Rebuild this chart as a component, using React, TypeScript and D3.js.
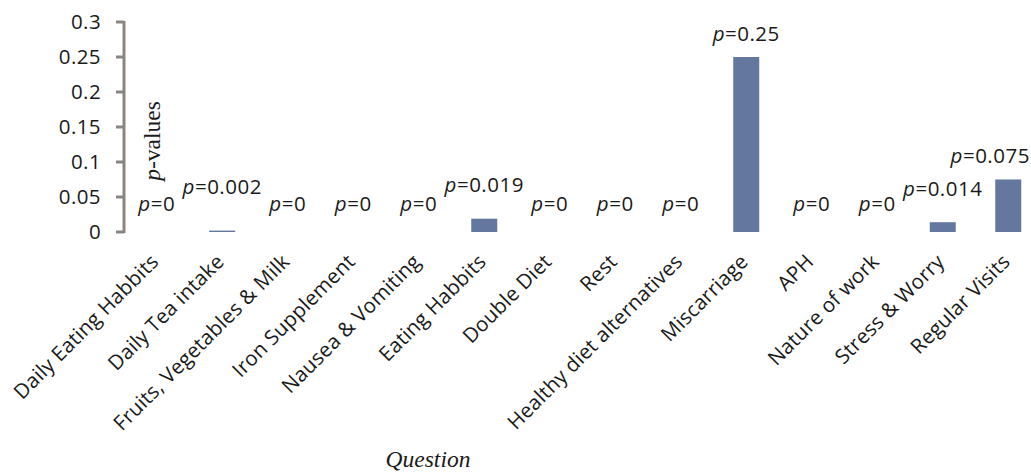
import React from "react";
import * as d3 from "d3";

// Survey questions and their p-values
const questions: string[] = [
  "Daily Eating Habbits",
  "Daily Tea intake",
  "Fruits, Vegetables & Milk",
  "Iron Supplement",
  "Nausea & Vomiting",
  "Eating Habbits",
  "Double Diet",
  "Rest",
  "Healthy diet alternatives",
  "Miscarriage",
  "APH",
  "Nature of work",
  "Stress & Worry",
  "Regular Visits",
];
const pValues: number[] = [0, 0.002, 0, 0, 0, 0.019, 0, 0, 0, 0.25, 0, 0, 0.014, 0.075];
const pLabels: string[] = ["0", "0.002", "0", "0", "0", "0.019", "0", "0", "0", "0.25", "0", "0", "0.014", "0.075"];
const yTicks: number[] = [0, 0.05, 0.1, 0.15, 0.2, 0.25, 0.3];

// vertical gap between a bar's top and its value label baseline
const labelGap: number[] = [21, 37, 21, 21, 21, 27, 21, 21, 21, 16, 21, 21, 26, 17];
// horizontal nudge of value labels (keeps the last one inside the frame)
const labelDx: number[] = [0, 0, 0, 0, 0, 0, 0, 0, 0, 0, 0, 0, 0, -18];

const FONT = "'Open Sans', sans-serif";
const SERIF = "'Liberation Serif', 'Times New Roman', serif";
const FS = 20.5;

export default function App() {
  const width = 1031;
  const height = 476;
  const x = d3.scaleBand<string>().domain(questions).range([124, 1041]).paddingInner(0.6).paddingOuter(0.3);
  const bw = 26;
  const y = d3.scaleLinear().domain([0, 0.3]).range([232, 22]);
  const center = (q: string) => (x(q) as number) + x.bandwidth() / 2;

  return (
    <svg
      width={width}
      height={height}
      style={{ position: "absolute", left: 0, top: 0, background: "#fff" }}
    >
      {/* bars */}
      {questions.map((q, i) => (
        <rect
          key={q}
          x={center(q) - bw / 2}
          width={bw}
          y={y(pValues[i])}
          height={y(0) - y(pValues[i])}
          fill="#63779f"
        />
      ))}

      {/* y axis */}
      <g stroke="#8a8580" strokeWidth={3}>
        <line x1={124} x2={124} y1={y(0.3) - 1} y2={y(0) + 1} />
        {yTicks.map((t) => (
          <line key={t} x1={116} x2={124} y1={y(t)} y2={y(t)} />
        ))}
      </g>
      {yTicks.map((t) => (
        <text
          key={t}
          x={101}
          y={y(t)}
          dy="0.36em"
          textAnchor="end"
          fontFamily={FONT}
          fontSize={FS}
          letterSpacing={0.4}
          fill="#1a1a1a"
        >
          {d3.format("")(t)}
        </text>
      ))}

      {/* value labels */}
      {questions.map((q, i) => (
        <text
          key={q}
          x={center(q) + labelDx[i]}
          y={y(pValues[i]) - labelGap[i]}
          textAnchor="middle"
          fontFamily={FONT}
          fontSize={FS}
          letterSpacing={0.5}
          fill="#1a1a1a"
        >
          <tspan fontStyle="italic">p</tspan>={pLabels[i]}
        </text>
      ))}

      {/* category labels */}
      {questions.map((q) => (
        <text
          key={q}
          transform={`translate(${center(q) + 3},${263}) rotate(-45)`}
          textAnchor="end"
          fontFamily={FONT}
          fontSize={FS}
          letterSpacing={0.2}
          fill="#1a1a1a"
        >
          {q}
        </text>
      ))}

      {/* axis titles */}
      <text
        transform={`translate(160,141) rotate(-90)`}
        textAnchor="middle"
        fontFamily={SERIF}
        fontSize={23.5}
        fill="#1a1a1a"
      >
        <tspan fontStyle="italic">p</tspan>-values
      </text>
      <text x={428} y={467} textAnchor="middle" fontFamily={SERIF} fontStyle="italic" fontSize={23.5} fill="#1a1a1a">
        Question
      </text>
    </svg>
  );
}
